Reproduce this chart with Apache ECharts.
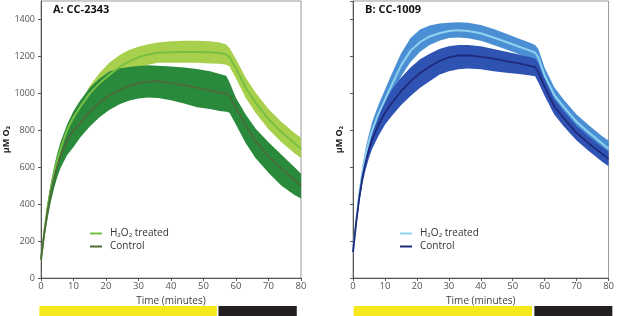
<!DOCTYPE html>
<html>
<head>
<meta charset="utf-8">
<script src="https://cdn.jsdelivr.net/npm/echarts@6/dist/echarts.min.js"></script>
<style>
  html, body { margin: 0; padding: 0; background: #fff; }
  #chart { width: 617px; height: 316px; }
</style>
</head>
<body>
<div id="chart"></div>
<script>
const minutes = [0, 1, 2, 3, 4, 5, 6, 8, 10, 12, 15, 18, 21, 24, 27, 30, 33, 36, 40, 44, 48, 52, 55, 57, 58, 60, 63, 66, 70, 74, 78, 80]

// panel A: CC-2343
const treatedA = [100, 250, 380, 480, 570, 640, 700, 800, 870, 925, 1000, 1055, 1100, 1140, 1172, 1195, 1210, 1220, 1223, 1224, 1224, 1222, 1218, 1210, 1195, 1135, 1030, 950, 860, 790, 730, 700]
const treatedAHi = [110, 265, 400, 505, 590, 660, 715, 815, 890, 945, 1040, 1110, 1165, 1205, 1234, 1252, 1266, 1275, 1282, 1285, 1285, 1282, 1275, 1265, 1245, 1185, 1085, 1005, 915, 845, 785, 760]
const treatedALo = [90, 235, 360, 455, 540, 605, 660, 755, 815, 865, 940, 1000, 1045, 1085, 1115, 1140, 1155, 1165, 1165, 1165, 1165, 1162, 1160, 1155, 1145, 1080, 975, 895, 805, 735, 675, 650]
const controlA = [100, 240, 360, 460, 540, 605, 660, 745, 800, 840, 900, 950, 988, 1015, 1040, 1055, 1063, 1066, 1055, 1045, 1030, 1015, 1005, 998, 985, 920, 825, 740, 660, 592, 530, 500]
const controlAHi = [110, 268, 405, 510, 600, 675, 735, 830, 905, 960, 1030, 1080, 1118, 1135, 1143, 1148, 1152, 1150, 1145, 1140, 1132, 1120, 1105, 1095, 1060, 975, 885, 810, 735, 668, 600, 565]
const controlALo = [90, 215, 320, 410, 485, 545, 595, 665, 710, 760, 820, 870, 910, 940, 960, 972, 978, 975, 962, 945, 925, 915, 905, 900, 895, 830, 730, 650, 570, 500, 450, 430]

// panel B: CC-1009
const treatedB = [140, 310, 460, 580, 670, 740, 800, 890, 965, 1040, 1150, 1230, 1278, 1308, 1325, 1338, 1342, 1338, 1325, 1302, 1278, 1252, 1234, 1220, 1195, 1095, 990, 925, 845, 785, 728, 700]
const treatedBHi = [150, 330, 485, 610, 705, 780, 845, 940, 1020, 1100, 1215, 1300, 1345, 1368, 1378, 1382, 1385, 1382, 1370, 1348, 1322, 1296, 1276, 1262, 1240, 1138, 1033, 965, 885, 825, 768, 744]
const treatedBLo = [130, 290, 435, 550, 635, 700, 755, 840, 910, 980, 1090, 1170, 1225, 1262, 1285, 1300, 1302, 1298, 1285, 1262, 1238, 1212, 1195, 1180, 1152, 1052, 947, 885, 805, 745, 690, 670]
const controlB = [140, 300, 440, 550, 630, 695, 750, 830, 895, 945, 1010, 1065, 1110, 1145, 1175, 1195, 1205, 1205, 1198, 1188, 1175, 1162, 1150, 1142, 1115, 1035, 930, 865, 785, 726, 672, 645]
const controlBHi = [150, 320, 470, 585, 670, 740, 800, 890, 960, 1015, 1085, 1140, 1185, 1215, 1240, 1255, 1262, 1262, 1255, 1240, 1225, 1210, 1198, 1188, 1165, 1080, 970, 905, 825, 765, 710, 685]
const controlBLo = [130, 280, 410, 515, 590, 650, 700, 770, 830, 875, 935, 985, 1030, 1065, 1100, 1120, 1130, 1135, 1130, 1120, 1112, 1105, 1098, 1092, 1060, 985, 885, 820, 745, 685, 630, 605]

// light / dark periods under each panel: [start, end, kind]
const lightA = [[-0.5, 54.1, 0], [54.6, 78.7, 1]]
const lightB = [[0.2, 55.1, 0], [55.8, 79.8, 1]]
const yTicks = [0, 1500, 200]
const xTicks = [0, 80, 10]

const FONT = '"Open Sans", sans-serif'
const lightColors = ['#f7e81c', '#231f20']

function pairs(vals) {
  return minutes.map((t, i) => [t, vals[i]])
}

// shaded spread: one polygon, upper edge forward then lower edge back
function band(axis, hi, lo, color, z) {
  return {
    type: 'custom', xAxisIndex: axis, yAxisIndex: axis, silent: true, z,
    data: minutes.map((t, i) => [t, lo[i], hi[i]]),
    encode: { x: 0, y: [1, 2] },
    renderItem(params, api) {
      if (params.dataIndex !== 0) return null
      const top = minutes.map((t, i) => api.coord([t, hi[i]]))
      const bottom = minutes.map((t, i) => api.coord([t, lo[i]])).reverse()
      return {
        type: 'polygon',
        shape: { points: top.concat(bottom) },
        style: { fill: color },
      }
    },
  }
}

function meanLine(name, axis, vals, color, width) {
  return {
    name, type: 'line', xAxisIndex: axis, yAxisIndex: axis, data: pairs(vals),
    symbol: 'none', lineStyle: { color, width }, itemStyle: { color }, z: 5,
  }
}

function lightBar(axis, data) {
  return {
    type: 'custom', xAxisIndex: axis, yAxisIndex: axis, data, silent: true,
    encode: { x: [0, 1] },
    renderItem(params, api) {
      const a = api.coord([api.value(0), 0])
      const b = api.coord([api.value(1), 0])
      const cs = params.coordSys
      return {
        type: 'rect',
        shape: { x: a[0], y: cs.y, width: b[0] - a[0], height: cs.height },
        style: { fill: lightColors[api.value(2)] },
      }
    },
  }
}

function xAxis(grid) {
  return {
    type: 'value', gridIndex: grid, min: xTicks[0], max: xTicks[1], interval: xTicks[2],
    axisLine: { show: true, lineStyle: { color: '#555' } },
    axisTick: { show: true, length: 3, lineStyle: { color: '#555' } },
    axisLabel: { fontFamily: FONT, fontSize: 9.5, color: '#555', margin: 3 },
    splitLine: { show: false },
    name: 'Time (minutes)', nameLocation: 'middle', nameGap: 15,
    nameTextStyle: { fontFamily: FONT, fontSize: 10, color: '#444' },
  }
}

function yAxis(grid, labels, gap) {
  return {
    type: 'value', gridIndex: grid, min: yTicks[0], max: yTicks[1], interval: yTicks[2],
    axisLine: { show: true, lineStyle: { color: '#555' } },
    axisTick: { show: true, length: 3, lineStyle: { color: '#555' } },
    axisLabel: {
      show: labels, fontFamily: FONT, fontSize: 9, color: '#555', margin: 6,
      showMaxLabel: false, formatter: (v) => String(v),
    },
    splitLine: { show: false },
    name: 'μM O₂', nameLocation: 'middle', nameGap: gap,
    nameTextStyle: { fontFamily: FONT, fontSize: 9, fontWeight: 'bold', color: '#222' },
  }
}

function legend(left, names) {
  return {
    data: names.map((name) => ({ name, icon: 'rect' })),
    orient: 'vertical', left, top: 227, padding: 0,
    itemWidth: 12, itemHeight: 2, itemGap: 0,
    formatter: (n) => n.split('|')[1],
    textStyle: { fontFamily: FONT, fontSize: 10, color: '#333', lineHeight: 13, padding: [0, 0, 0, 3] },
  }
}

const titleStyle = { fontFamily: FONT, fontSize: 11, fontWeight: 'bold', color: '#111' }
const hidden = { show: false }

const chart = echarts.init(document.getElementById('chart'))
chart.setOption({
  animation: false,
  backgroundColor: '#fff',
  title: [
    { text: 'A: CC-2343', left: 53, top: 4, padding: 0, textStyle: titleStyle },
    { text: 'B: CC-1009', left: 365, top: 4, padding: 0, textStyle: titleStyle },
  ],
  legend: [
    legend(90, ['A|H₂O₂ treated', 'A|Control']),
    legend(400, ['B|H₂O₂ treated', 'B|Control']),
  ],
  grid: [
    { left: 41, top: 1, width: 260, height: 277, show: true, borderColor: '#999', borderWidth: 1 },
    { left: 353, top: 1, width: 260, height: 277, show: true, borderColor: '#999', borderWidth: 1 },
    { left: 41, top: 306, width: 260, height: 10 },
    { left: 353, top: 306, width: 260, height: 10 },
  ],
  xAxis: [
    xAxis(0), xAxis(1),
    { type: 'value', gridIndex: 2, min: 0, max: 80, ...hidden },
    { type: 'value', gridIndex: 3, min: 0, max: 80, ...hidden },
  ],
  yAxis: [
    yAxis(0, true, 30), yAxis(1, false, 9),
    { type: 'value', gridIndex: 2, min: 0, max: 1, ...hidden },
    { type: 'value', gridIndex: 3, min: 0, max: 1, ...hidden },
  ],
  series: [
    band(0, treatedAHi, treatedALo, '#a9d04c', 2),
    band(0, controlAHi, controlALo, '#2a8a3c', 3),
    meanLine('A|H₂O₂ treated', 0, treatedA, '#76c043', 2),
    meanLine('A|Control', 0, controlA, '#4c6a3a', 1.8),
    band(1, treatedBHi, treatedBLo, '#4a8fd4', 2),
    band(1, controlBHi, controlBLo, '#2f53b3', 3),
    meanLine('B|H₂O₂ treated', 1, treatedB, '#8fd2f0', 2),
    meanLine('B|Control', 1, controlB, '#1f2a7c', 1.8),
    lightBar(2, lightA),
    lightBar(3, lightB),
  ],
})
</script>
</body>
</html>
